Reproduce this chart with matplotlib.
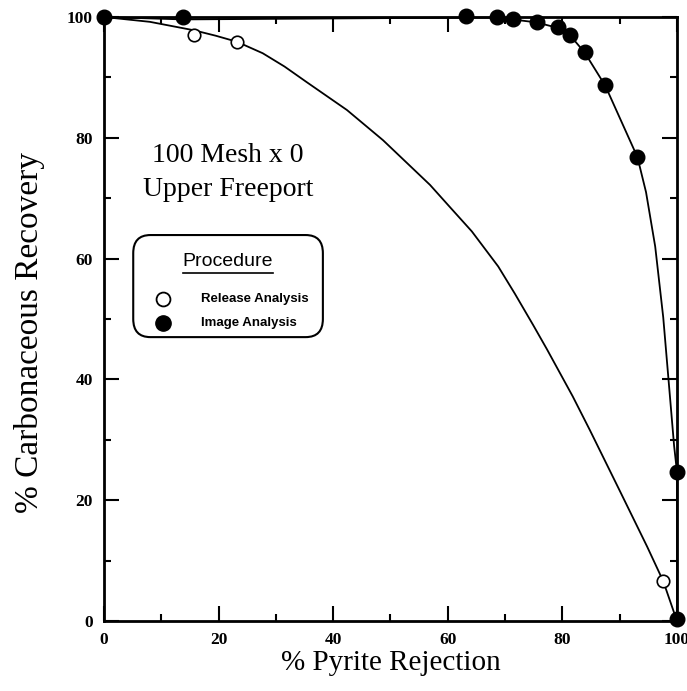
import matplotlib
matplotlib.use("Agg")
import matplotlib.pyplot as plt
from matplotlib.patches import FancyBboxPatch
from matplotlib.ticker import MultipleLocator

# release analysis (open circles) and its fitted curve
rel_x = [15.7, 23.2, 97.6]
rel_y = [97.0, 95.9, 6.6]
rel_curve_x = [0, 8, 15.7, 19.5, 23.2, 27.7, 31.5, 35.4, 42.4, 48.7, 56.9, 60.4,
               64.2, 68.8, 71.7, 74.9, 77.3, 81.8, 84.8, 90.1, 94.8, 97.6, 100]
rel_curve_y = [100, 99.2, 97.8, 96.9, 95.9, 94.0, 91.8, 89.2, 84.6, 79.6, 72.2, 68.5,
               64.5, 58.7, 54.2, 49.0, 45.0, 37.2, 31.6, 21.4, 12.3, 6.6, 0]

# image analysis (filled circles) and its curve
img_x = [0, 13.8, 63.2, 68.6, 71.3, 75.5, 79.2, 81.4, 83.9, 87.5, 93.1, 100, 100]
img_y = [100, 100, 100.1, 100, 99.7, 99.2, 98.3, 97.0, 94.2, 88.7, 76.8, 24.7, 0.3]
img_curve_x = [0, 13.8, 63.2, 68.6, 71.3, 75.5, 79.2, 81.4, 83.9, 87.5, 93.1,
               94.6, 96.2, 97.6, 98.7, 99.5, 100, 100]
img_curve_y = [100, 99.6, 99.9, 99.9, 99.6, 99.1, 98.2, 96.9, 94.1, 88.6, 76.8,
               71.0, 62.0, 50.3, 38.0, 29.0, 24.7, 0]

plt.rcParams['font.family'] = ['Liberation Serif', 'DejaVu Serif']

fig = plt.figure(figsize=(6.87, 6.91), dpi=100)
ax = fig.add_axes([0.1514, 0.1013, 0.8340, 0.8741])

ax.plot(rel_curve_x, rel_curve_y, color='black', lw=1.3, clip_on=False)
ax.plot(img_curve_x, img_curve_y, color='black', lw=1.3, clip_on=False)
ax.plot(rel_x, rel_y, 'o', ms=9, mfc='white', mec='black', mew=1.2, clip_on=False, zorder=5)
ax.plot(img_x, img_y, 'o', ms=10.5, mfc='black', mec='black', clip_on=False, zorder=5)

ax.set_xlim(0, 100)
ax.set_ylim(0, 100)
ax.xaxis.set_major_locator(MultipleLocator(20))
ax.xaxis.set_minor_locator(MultipleLocator(10))
ax.yaxis.set_major_locator(MultipleLocator(20))
ax.yaxis.set_minor_locator(MultipleLocator(10))
ax.tick_params(which='both', direction='in', top=True, right=True, width=1.5)
ax.tick_params(which='major', length=11, labelsize=12.5, pad=8)
ax.tick_params(which='minor', length=5)
for lab in ax.get_xticklabels() + ax.get_yticklabels():
    lab.set_fontweight('bold')
for sp in ax.spines.values():
    sp.set_linewidth(2)

ax.set_xlabel('% Pyrite Rejection', fontsize=21, labelpad=1)
ax.set_ylabel('% Carbonaceous Recovery', fontsize=24)
ax.yaxis.set_label_coords(-0.103, 0.478)

ax.text(0.216, 0.743, '100 Mesh x 0\nUpper Freeport', transform=ax.transAxes,
        ha='center', va='center', fontsize=20, linespacing=1.45)

# legend box
box = FancyBboxPatch((0.051, 0.470), 0.331, 0.169, transform=ax.transAxes,
                     boxstyle='round,pad=0,rounding_size=0.03', fc='white',
                     ec='black', lw=1.5)
ax.add_patch(box)
ax.text(0.216, 0.596, 'Procedure', transform=ax.transAxes, ha='center', va='center',
        fontsize=14, family='Liberation Sans')
ax.plot([0.138, 0.295], [0.576, 0.576], transform=ax.transAxes, color='black', lw=1.2)
ax.plot([0.103], [0.533], 'o', ms=10, mfc='white', mec='black', mew=1.3, transform=ax.transAxes)
ax.plot([0.103], [0.493], 'o', ms=11, mfc='black', mec='black', transform=ax.transAxes)
ax.text(0.169, 0.533, 'Release Analysis', transform=ax.transAxes, va='center',
        fontsize=9.5, fontweight='bold', family='Liberation Sans')
ax.text(0.169, 0.493, 'Image Analysis', transform=ax.transAxes, va='center',
        fontsize=9.5, fontweight='bold', family='Liberation Sans')

fig.savefig('out.png', dpi=100)
